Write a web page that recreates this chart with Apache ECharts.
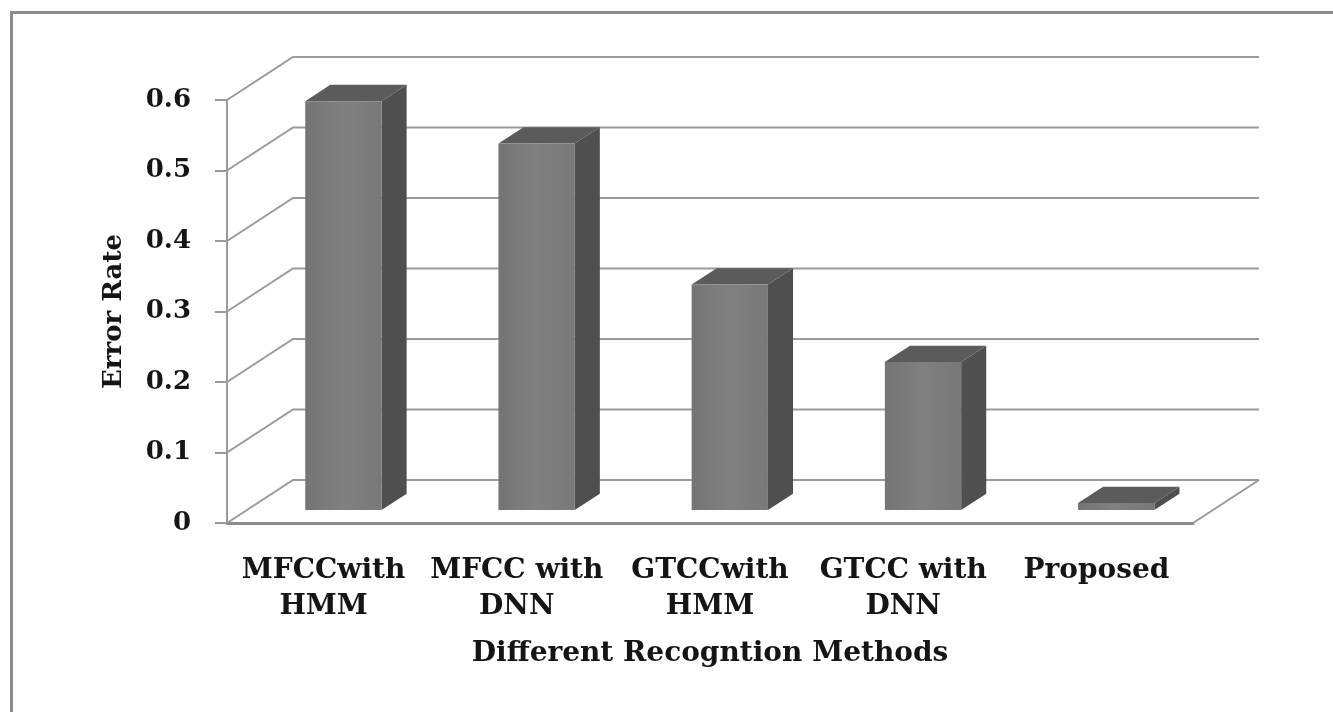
<!DOCTYPE html>
<html>
<head>
<meta charset="utf-8">
<script src="https://cdn.jsdelivr.net/npm/echarts@6.0.0/dist/echarts.min.js"></script>
<style>
  html, body { margin: 0; padding: 0; background: #ffffff; }
  #chart { width: 1333px; height: 712px; }
</style>
</head>
<body>
<div id="chart"></div>
<script>
const methods = ["MFCCwith\nHMM", "MFCC with\nDNN", "GTCCwith\nHMM", "GTCC with\nDNN", "Proposed"];
const errorRates = [0.58, 0.52, 0.32, 0.21, 0.01];
const yTicks = [0, 0.1, 0.2, 0.3, 0.4, 0.5, 0.6];

// depth of the fake 3D box (pixels), bars sit between 30% and 68% of it
const depthX = 66;
const depthY = -43;
const barFront = 0.3;
const barBack = 0.68;
const barRatio = 0.395;

const gridColor = "#9a9a9a";
const textColor = "#151515";
const font = "DejaVu Serif";

const chart = echarts.init(document.getElementById("chart"), null, { renderer: "canvas" });

function renderWall(params, api) {
  const v = api.value(1);
  const cs = params.coordSys;
  const y = api.coord([0, v])[1];
  const x0 = cs.x;
  const x1 = cs.x + cs.width;
  const children = [{
    type: "polyline",
    shape: { points: [[x0, y], [x0 + depthX, y + depthY], [x1 + depthX, y + depthY]] },
    style: { stroke: gridColor, lineWidth: 2, fill: null }
  }];
  if (v === 0) {
    children.push({
      type: "line",
      shape: { x1: x1, y1: y, x2: x1 + depthX, y2: y + depthY },
      style: { stroke: gridColor, lineWidth: 2 }
    });
  }
  return { type: "group", children: children };
}

function renderBar(params, api) {
  const idx = api.value(0);
  const val = api.value(1);
  const base = api.coord([idx, 0]);
  const top = api.coord([idx, val]);
  const band = api.size([1, 0])[0];
  const w = band * barRatio;
  const cx = base[0] + depthX * barFront;
  const L = cx - w / 2;
  const R = cx + w / 2;
  const yb = base[1] + depthY * barFront;
  const yt = top[1] + depthY * barFront;
  const ddx = depthX * (barBack - barFront);
  const ddy = depthY * (barBack - barFront);
  return {
    type: "group",
    children: [
      {
        type: "polygon",
        shape: { points: [[R, yt], [R + ddx, yt + ddy], [R + ddx, yb + ddy], [R, yb]] },
        style: { fill: "#4f4f4f" }
      },
      {
        type: "polygon",
        shape: { points: [[L, yt], [L + ddx, yt + ddy], [R + ddx, yt + ddy], [R, yt]] },
        style: { fill: "#5b5b5b" }
      },
      {
        type: "rect",
        shape: { x: L, y: yt, width: w, height: yb - yt },
        style: {
          fill: new echarts.graphic.LinearGradient(0, 0, 1, 0, [
            { offset: 0, color: "#747474" },
            { offset: 0.5, color: "#808080" },
            { offset: 1, color: "#787878" }
          ])
        }
      }
    ]
  };
}

chart.setOption({
  animation: false,
  backgroundColor: "#ffffff",
  graphic: [{
    type: "rect",
    left: 9,
    top: 10,
    shape: { width: 1323, height: 720 },
    style: { fill: null, stroke: "#8c8c8c", lineWidth: 3 },
    silent: true,
    z: -10
  }],
  grid: { left: 227, right: 140, top: 100, bottom: 189 },
  xAxis: {
    type: "category",
    data: methods,
    name: "Different Recogntion Methods",
    nameLocation: "middle",
    nameGap: 117,
    nameTextStyle: { fontFamily: font, fontWeight: "bold", fontSize: 28, color: textColor, verticalAlign: "top" },
    axisLine: { show: true, lineStyle: { color: "#8c8c8c", width: 3 } },
    axisTick: { show: false },
    axisLabel: {
      interval: 0,
      margin: 30,
      fontFamily: font,
      fontWeight: "bold",
      fontSize: 28,
      lineHeight: 36,
      color: textColor
    },
    splitLine: { show: false }
  },
  yAxis: {
    type: "value",
    min: 0,
    max: 0.6,
    interval: 0.1,
    name: "Error Rate",
    nameLocation: "middle",
    nameGap: 100,
    nameTextStyle: { fontFamily: font, fontWeight: "bold", fontSize: 26, color: textColor },
    axisLine: { show: true, lineStyle: { color: gridColor, width: 2 } },
    axisTick: { show: true, length: 12, lineStyle: { color: gridColor, width: 2 } },
    axisLabel: {
      margin: 36,
      fontFamily: font,
      fontWeight: "bold",
      fontSize: 26,
      color: textColor
    },
    splitLine: { show: false }
  },
  series: [
    {
      type: "custom",
      renderItem: renderWall,
      data: yTicks.map(v => [0, v]),
      encode: { x: 0, y: 1 },
      clip: false,
      silent: true,
      z: 1
    },
    {
      type: "custom",
      renderItem: renderBar,
      data: errorRates.map((v, i) => [i, v]),
      encode: { x: 0, y: 1 },
      clip: false,
      z: 2
    }
  ]
});
</script>
</body>
</html>
